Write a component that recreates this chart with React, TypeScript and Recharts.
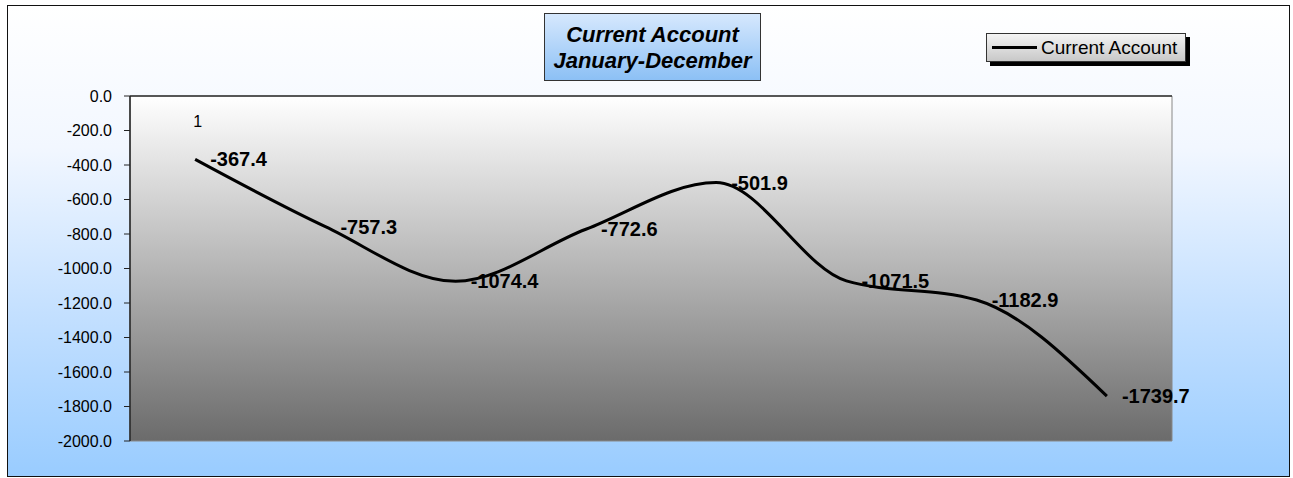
import { LineChart, Line, XAxis, YAxis, ReferenceArea } from "recharts";

const periods = [1, 2, 3, 4, 5, 6, 7, 8];
const currentAccount = [-367.4, -757.3, -1074.4, -772.6, -501.9, -1071.5, -1182.9, -1739.7];
const yTicks = [0, -200, -400, -600, -800, -1000, -1200, -1400, -1600, -1800, -2000];
const xTicks = [0, 1, 2, 3, 4, 5, 6, 7, 8];
const titleLines = ["Current Account", "January-December"];
const seriesName = "Current Account";

const data = periods.map((p, i) => ({ period: p, pos: i + 0.5, value: currentAccount[i] }));

const font = 'Arial, "Liberation Sans", sans-serif';

const renderLabel = (props: any) => {
  const { x, y, value, index } = props;
  return (
    <g>
      <text x={x + 15} y={y + 7} fontSize={20} fontWeight="bold" fill="#000" fontFamily={font}>
        {Number(value).toFixed(1)}
      </text>
      {index === 0 && (
        <text x={x - 2} y={y - 32} fontSize={16} fill="#000" fontFamily={font}>
          {periods[0]}
        </text>
      )}
    </g>
  );
};

const LegendBox = () => (
  <div style={{ position: "absolute", left: 986, top: 33, width: 200, height: 29, zIndex: 2 }}>
    <div style={{ position: "absolute", left: 4, top: 4, width: 200, height: 29, background: "#000" }} />
    <div
      style={{
        position: "absolute", left: 0, top: 0, width: 198, height: 27,
        border: "1px solid #333",
        background: "linear-gradient(#f4f4f4, #c8c8c8)",
        fontFamily: font, fontSize: 19, color: "#000",
        display: "flex", alignItems: "center", whiteSpace: "nowrap",
      }}
    >
      <span style={{ display: "inline-block", width: 45, height: 3, background: "#000", marginLeft: 5, marginRight: 4 }} />
      {seriesName}
    </div>
  </div>
);

export default function App() {
  return (
    <div style={{ position: "absolute", left: 0, top: 0, width: 1293, height: 478 }}>
      <div
        style={{
          position: "absolute", left: 7, top: 5, width: 1281, height: 470,
          border: "1.5px solid #111",
          background: "linear-gradient(#ffffff 0%, #f2f7ff 30%, #c4e0ff 65%, #99ccff 100%)",
        }}
      />
      <div
        style={{
          position: "absolute", left: 544, top: 13, width: 217, height: 68,
          border: "1px solid #333",
          background: "linear-gradient(#d6e8fd, #8cc0f5)",
          fontFamily: font, fontSize: 22, fontWeight: "bold", fontStyle: "italic",
          textAlign: "center", lineHeight: "26px", paddingTop: 8, boxSizing: "border-box",
          zIndex: 2,
        }}
      >
        {titleLines.map((t) => (
          <div key={t}>{t}</div>
        ))}
      </div>
      <LegendBox />
      <div style={{ position: "absolute", left: 0, top: 0 }}>
        <LineChart width={1293} height={478} data={data} margin={{ top: 66, right: 121, bottom: 37, left: 0 }}>
          <defs>
            <linearGradient id="plotFill" x1="0" y1="0" x2="0" y2="1">
              <stop offset="0%" stopColor="#ffffff" />
              <stop offset="100%" stopColor="#6b6b6b" />
            </linearGradient>
          </defs>
          <ReferenceArea x1={0} x2={8} y1={-2000} y2={0} fill="url(#plotFill)" fillOpacity={1} stroke="#888" strokeWidth={1} />
          <XAxis
            type="number"
            dataKey="pos"
            domain={[0, 8]}
            ticks={xTicks}
            orientation="top"
            height={30}
            tick={false}
            tickSize={5}
            axisLine={{ stroke: "#333", strokeWidth: 1.5 }}
            tickLine={{ stroke: "#333" }}
          />
          <YAxis
            domain={[-2000, 0]}
            ticks={yTicks}
            width={130}
            tickSize={6}
            tickMargin={12}
            tickFormatter={(v: number) => v.toFixed(1)}
            tick={{ fill: "#000", fontSize: 16, fontFamily: font }}
            axisLine={{ stroke: "#222", strokeWidth: 1.5 }}
            tickLine={{ stroke: "#222" }}
            interval={0}
          />
          <Line
            type="monotone"
            dataKey="value"
            name={seriesName}
            stroke="#000"
            strokeWidth={3}
            dot={false}
            label={renderLabel}
            isAnimationActive={false}
          />
        </LineChart>
      </div>
    </div>
  );
}
